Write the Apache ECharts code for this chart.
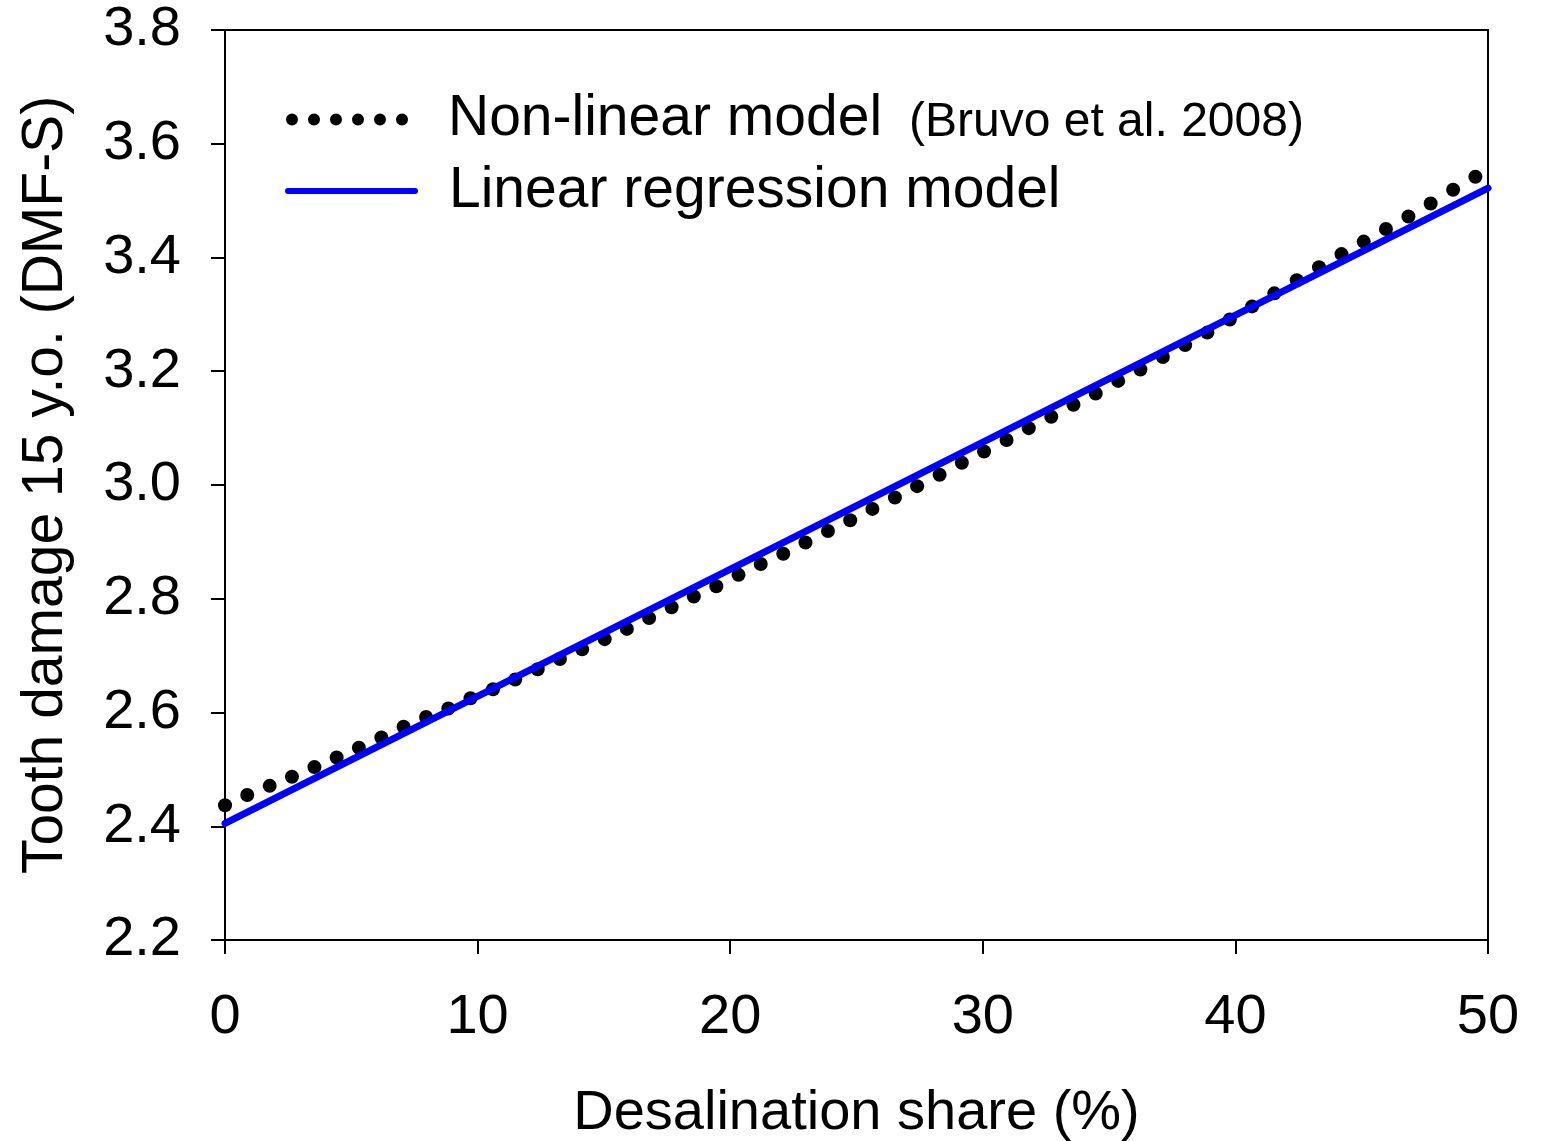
<!DOCTYPE html>
<html>
<head>
<meta charset="utf-8">
<script src="https://cdn.jsdelivr.net/npm/echarts@6/dist/echarts.min.js"></script>
<style>
html,body{margin:0;padding:0;background:#fff;}
#chart{width:1541px;height:1141px;}
</style>
</head>
<body>
<div id="chart"></div>
<script>
// ---- data ----
const xTicks = [0, 10, 20, 30, 40, 50];
const yTicks = [2.2, 2.4, 2.6, 2.8, 3.0, 3.2, 3.4, 3.6, 3.8];

const nonLinearX = [0.00, 0.88, 1.77, 2.65, 3.54, 4.42, 5.30, 6.19, 7.07, 7.96,
  8.84, 9.72, 10.61, 11.49, 12.38, 13.26, 14.14, 15.03, 15.91, 16.79,
  17.68, 18.56, 19.45, 20.33, 21.21, 22.10, 22.98, 23.87, 24.75, 25.63,
  26.52, 27.40, 28.29, 29.17, 30.05, 30.94, 31.82, 32.71, 33.59, 34.47,
  35.36, 36.24, 37.13, 38.01, 38.89, 39.78, 40.66, 41.54, 42.43, 43.31,
  44.20, 45.08, 45.96, 46.85, 47.73, 48.62, 49.50];
const nonLinearY = [2.437, 2.455, 2.471, 2.487, 2.504, 2.521, 2.538, 2.556, 2.575, 2.592,
  2.607, 2.625, 2.641, 2.658, 2.676, 2.694, 2.711, 2.729, 2.747, 2.766,
  2.785, 2.804, 2.822, 2.842, 2.861, 2.879, 2.899, 2.919, 2.938, 2.958,
  2.978, 2.998, 3.018, 3.039, 3.059, 3.079, 3.100, 3.120, 3.141, 3.161,
  3.183, 3.203, 3.225, 3.246, 3.268, 3.291, 3.314, 3.337, 3.360, 3.383,
  3.406, 3.428, 3.450, 3.472, 3.495, 3.519, 3.542];

const linearX = [0, 50];
const linearY = [2.405, 3.522];

const seriesNames = ['Non-linear model', 'Linear regression model'];
const citation = '(Bruvo et al. 2008)';
const xName = 'Desalination share (%)';
const yName = 'Tooth damage 15 y.o. (DMF-S)';

// ---- chart ----
const FONT = '"Liberation Sans", Arial, Helvetica, sans-serif';
const chart = echarts.init(document.getElementById('chart'), null, {renderer: 'canvas'});

const dotsIcon = 'path://' + [0, 22, 44, 66, 88, 110].map(function (x) {
  return 'M' + x + ',6 a6,6 0 1 0 12,0 a6,6 0 1 0 -12,0 Z';
}).join(' ');
const lineIcon = 'path://M3,0 L130,0 A3,3 0 0 1 130,6 L3,6 A3,3 0 0 1 3,0 Z';

const option = {
  animation: false,
  backgroundColor: '#fff',
  grid: {
    left: 225, top: 30, right: 53, bottom: 201,
    containLabel: false,
    outerBoundsMode: 'none',
    show: true, borderColor: '#000', borderWidth: 2, backgroundColor: 'transparent'
  },
  legend: [
    {
      data: [{name: seriesNames[0], icon: dotsIcon, itemStyle: {color: '#000', borderWidth: 0, opacity: 1}}],
      left: 281, top: 86,
      itemWidth: 122, itemHeight: 12,
      itemStyle: {borderWidth: 0, opacity: 1},
      selectedMode: false,
      formatter: function (n) { return '{a|' + n + '}{b|' + citation + '}'; },
      textStyle: {
        padding: [0, 0, 0, 35],
        rich: {
          a: {fontFamily: FONT, fontSize: 57, color: '#000', lineHeight: 64},
          b: {fontFamily: FONT, fontSize: 48, color: '#000', padding: [6, 0, 0, 27], lineHeight: 64}
        }
      }
    },
    {
      data: [{name: seriesNames[1], icon: lineIcon, itemStyle: {color: '#0000ff', borderWidth: 0, opacity: 1}}],
      left: 280, top: 154,
      itemWidth: 135, itemHeight: 6,
      itemStyle: {borderWidth: 0},
      selectedMode: false,
      textStyle: {
        fontFamily: FONT, fontSize: 57, color: '#000', lineHeight: 64,
        padding: [0, 0, 0, 25]
      }
    }
  ],
  xAxis: {
    type: 'value',
    min: xTicks[0], max: xTicks[xTicks.length - 1], interval: 10,
    name: xName, nameLocation: 'middle', nameGap: 146,
    nameTextStyle: {fontFamily: FONT, fontSize: 56, color: '#000'},
    axisLine: {show: true, onZero: false, lineStyle: {color: '#000', width: 2}},
    axisTick: {show: true, inside: false, length: 14, lineStyle: {color: '#000', width: 2}},
    axisLabel: {margin: 50, fontFamily: FONT, fontSize: 56, color: '#000'},
    splitLine: {show: false}
  },
  yAxis: {
    type: 'value',
    min: yTicks[0], max: yTicks[yTicks.length - 1], interval: 0.2,
    name: yName, nameLocation: 'middle', nameGap: 150,
    nameTextStyle: {fontFamily: FONT, fontSize: 57, color: '#000'},
    axisLine: {show: true, onZero: false, lineStyle: {color: '#000', width: 2}},
    axisTick: {show: true, inside: false, length: 14, lineStyle: {color: '#000', width: 2}},
    axisLabel: {
      margin: 44, fontFamily: FONT, fontSize: 56, color: '#000',
      formatter: function (v) { return v.toFixed(1); }
    },
    splitLine: {show: false}
  },
  series: [
    {
      name: seriesNames[0],
      type: 'scatter',
      data: nonLinearX.map(function (x, i) { return [x, nonLinearY[i]]; }),
      symbol: 'circle',
      symbolSize: 14,
      itemStyle: {color: '#000', opacity: 1},
      z: 2
    },
    {
      name: seriesNames[1],
      type: 'line',
      data: linearX.map(function (x, i) { return [x, linearY[i]]; }),
      showSymbol: false,
      symbol: 'none',
      itemStyle: {color: '#0000ff'},
      lineStyle: {color: '#0000ff', width: 7, cap: 'round'},
      z: 3
    }
  ]
};
chart.setOption(option);
</script>
</body>
</html>
